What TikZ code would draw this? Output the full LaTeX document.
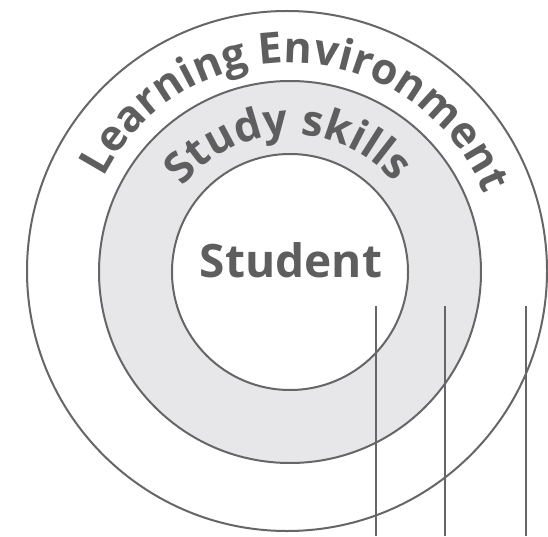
\documentclass[tikz,border=0pt]{standalone}
\usepackage{fontspec}
\setmainfont{Open Sans}
\usetikzlibrary{decorations.text}
\definecolor{txt}{HTML}{5E5E5E}
\definecolor{ln}{HTML}{666666}
\definecolor{ring}{HTML}{E7E6E9}
\newcommand\lblfont{\bfseries\fontsize{46}{46}\selectfont}
\newcommand\arcfont{\bfseries\fontsize{43}{43}\selectfont}
\tikzset{
  circ/.style={draw=ln, line width=2pt},
  vline/.style={draw=ln, line width=1.3pt},
  arctext/.style={decorate, decoration={text along path, text align=center, text color=txt, text={|\arcfont|#1}}},
}
\begin{document}
\begin{tikzpicture}[x=1pt,y=1pt]
\useasboundingbox[fill=white] (0,0) rectangle (548,536);
\coordinate (O) at (287,265);
\coordinate (C) at (290,264);
% circles
\draw[circ] (O) circle[radius=260];
\draw[circ, fill=ring] (C) circle[radius=191];
\draw[circ, fill=white] (C) circle[radius=118];
% curved labels (paths symmetric about the text's centre angle)
\path[arctext={Learning Environment}] ([shift={(172.5:209)}]C) arc[start angle=172.5, end angle=2.5, radius=209];
\path[arctext={Study skills}] ([shift={(171:137)}]C) arc[start angle=171, end angle=11, radius=137];
% centre label
\node[anchor=base, text=txt, font=\lblfont, inner sep=0pt] (student) at (291,259) {Student};
% vertical lines
\coordinate (l1t) at (376,230); \coordinate (l1b) at (376,0);
\coordinate (l2t) at (445,230); \coordinate (l2b) at (445,0);
\coordinate (l3t) at (526,230); \coordinate (l3b) at (526,0);
\draw[vline] (l1t) -- (l1b);
\draw[vline] (l2t) -- (l2b);
\draw[vline] (l3t) -- (l3b);
\end{tikzpicture}
\end{document}
